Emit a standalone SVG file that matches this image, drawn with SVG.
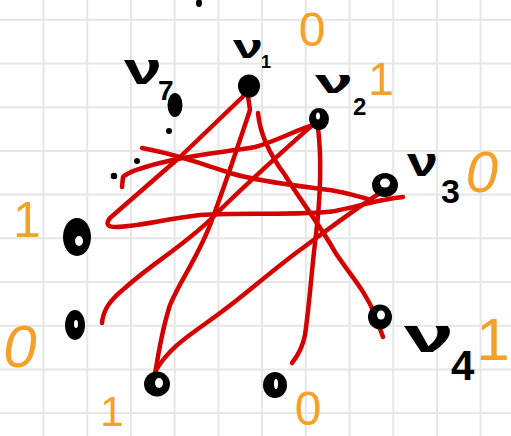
<svg xmlns="http://www.w3.org/2000/svg" width="511" height="436" viewBox="0 0 511 436">
<style>
.grid line{stroke:#e6e6e6;stroke-width:2}
.edge{fill:none;stroke:#d40000;stroke-width:4.5;stroke-linecap:round;stroke-linejoin:round}
.blob{fill:#000}
.hole{fill:#fff}
.lab{font-family:"Liberation Sans",Arial,sans-serif;font-weight:bold;fill:#000}
.val{font-family:"Liberation Sans",Arial,sans-serif;fill:#f5a029;text-anchor:middle}
</style>
<rect width="511" height="436" fill="#fff"/>
<g class="grid">
<line x1="43.5" y1="0" x2="43.5" y2="436"/><line x1="87.2" y1="0" x2="87.2" y2="436"/><line x1="131" y1="0" x2="131" y2="436"/><line x1="174.7" y1="0" x2="174.7" y2="436"/><line x1="218.4" y1="0" x2="218.4" y2="436"/><line x1="262" y1="0" x2="262" y2="436"/><line x1="305.8" y1="0" x2="305.8" y2="436"/><line x1="349.5" y1="0" x2="349.5" y2="436"/><line x1="393.2" y1="0" x2="393.2" y2="436"/><line x1="437" y1="0" x2="437" y2="436"/><line x1="480.6" y1="0" x2="480.6" y2="436"/>
<line x1="0" y1="19.8" x2="511" y2="19.8"/><line x1="0" y1="63.5" x2="511" y2="63.5"/><line x1="0" y1="107.2" x2="511" y2="107.2"/><line x1="0" y1="151" x2="511" y2="151"/><line x1="0" y1="194.6" x2="511" y2="194.6"/><line x1="0" y1="238.3" x2="511" y2="238.3"/><line x1="0" y1="282" x2="511" y2="282"/><line x1="0" y1="325.7" x2="511" y2="325.7"/><line x1="0" y1="369.4" x2="511" y2="369.4"/><line x1="0" y1="413" x2="511" y2="413"/>
</g>
<ellipse class="blob" cx="199" cy="3" rx="3" ry="4"/>
<g id="dots">
<circle class="blob" cx="169" cy="131" r="3"/>
<circle class="blob" cx="137" cy="161" r="3"/>
<circle class="blob" cx="114" cy="176" r="3.3"/>
</g>
<g id="connectors">
<path class="edge" d="M255,85 L180,157 L110,218 Q103,227 116,227 C140,226 160,220 200,215 C240,212 300,216 335,211 C360,206 380,199 403,197"/>
<path class="edge" d="M248,96 L250,110 C240,140 225,185 213,217 C200,255 180,280 170,305 C162,330 158,355 155,375"/>
<path class="edge" d="M258,113 C260,135 270,155 285,175 C300,200 320,225 335,252 C350,275 365,290 375,315 L383,337"/>
<path class="edge" d="M317,121 C290,145 250,180 213,217 C185,245 150,265 125,288 C110,300 103,310 102,323"/>
<path class="edge" d="M314,125 C295,130 280,140 255,147 C225,152 190,155 160,163 C140,168 128,172 123,177 L122,187"/>
<path class="edge" d="M142,148 C170,153 200,163 230,173 C260,182 300,186 330,190 C350,193 362,198 372,200"/>
<path class="edge" d="M388,188 C360,205 330,228 300,250 C270,272 245,295 220,313 C195,332 170,345 155,372"/>
<path class="edge" d="M318,128 C322,160 320,200 316,235 C312,265 310,300 305,335 C302,350 296,358 292,363"/>
</g>
<g id="v1">
<ellipse class="blob" cx="249" cy="86" rx="11" ry="11.5"/>
<text class="lab" x="233" y="58" font-size="33" textLength="30" lengthAdjust="spacingAndGlyphs">ν</text>
<text class="lab" x="261" y="68" font-size="18">1</text>
<text class="val" x="312" y="46" font-size="48">0</text>
</g>
<g id="v2">
<ellipse class="blob" cx="319" cy="119" rx="10" ry="11"/>
<ellipse class="hole" cx="318" cy="116" rx="2" ry="3.5"/>
<text class="lab" x="315" y="93" font-size="33" textLength="38" lengthAdjust="spacingAndGlyphs">ν</text>
<text class="lab" x="353" y="115" font-size="24">2</text>
<text class="val" x="381" y="95" font-size="46">1</text>
</g>
<g id="v7">
<ellipse class="blob" cx="175" cy="105" rx="7.5" ry="12"/>
<text class="lab" x="124" y="84" font-size="45" textLength="38" lengthAdjust="spacingAndGlyphs">ν</text>
<text class="lab" x="158" y="100" font-size="28">7</text>
</g>
<g id="v3">
<ellipse class="blob" cx="385" cy="185" rx="13" ry="12"/>
<ellipse class="hole" cx="385" cy="183" rx="5" ry="4.5"/>
<text class="lab" x="407" y="176" font-size="40" textLength="31" lengthAdjust="spacingAndGlyphs">ν</text>
<text class="lab" x="441" y="203" font-size="34">3</text>
<text class="val" x="482" y="192" font-size="58" font-style="italic">0</text>
</g>
<g id="v4">
<ellipse class="blob" cx="380" cy="317" rx="12" ry="12.5"/>
<ellipse class="hole" cx="381" cy="315" rx="4" ry="4.5"/>
<text class="lab" x="404" y="352" font-size="48" textLength="50" lengthAdjust="spacingAndGlyphs">ν</text>
<text class="lab" x="451" y="380" font-size="42">4</text>
<text class="val" x="493" y="360" font-size="60">1</text>
</g>
<g id="n5">
<ellipse class="blob" cx="77" cy="237" rx="14" ry="19"/>
<ellipse class="hole" cx="79" cy="241" rx="4" ry="5"/>
<text class="val" x="27" y="237" font-size="50">1</text>
</g>
<g id="n6">
<ellipse class="blob" cx="75" cy="325" rx="10" ry="15"/>
<ellipse class="hole" cx="76" cy="324" rx="2" ry="4"/>
<text class="val" x="20" y="367" font-size="60" font-style="italic">0</text>
</g>
<g id="n7">
<ellipse class="blob" cx="157" cy="384" rx="13" ry="12.5"/>
<ellipse class="hole" cx="159" cy="383" rx="4" ry="5"/>
<text class="val" x="112" y="426" font-size="42">1</text>
</g>
<g id="n8">
<ellipse class="blob" cx="275" cy="385" rx="12" ry="13"/>
<ellipse class="hole" cx="276" cy="384" rx="2" ry="5"/>
<text class="val" x="308" y="425" font-size="48">0</text>
</g>
</svg>
